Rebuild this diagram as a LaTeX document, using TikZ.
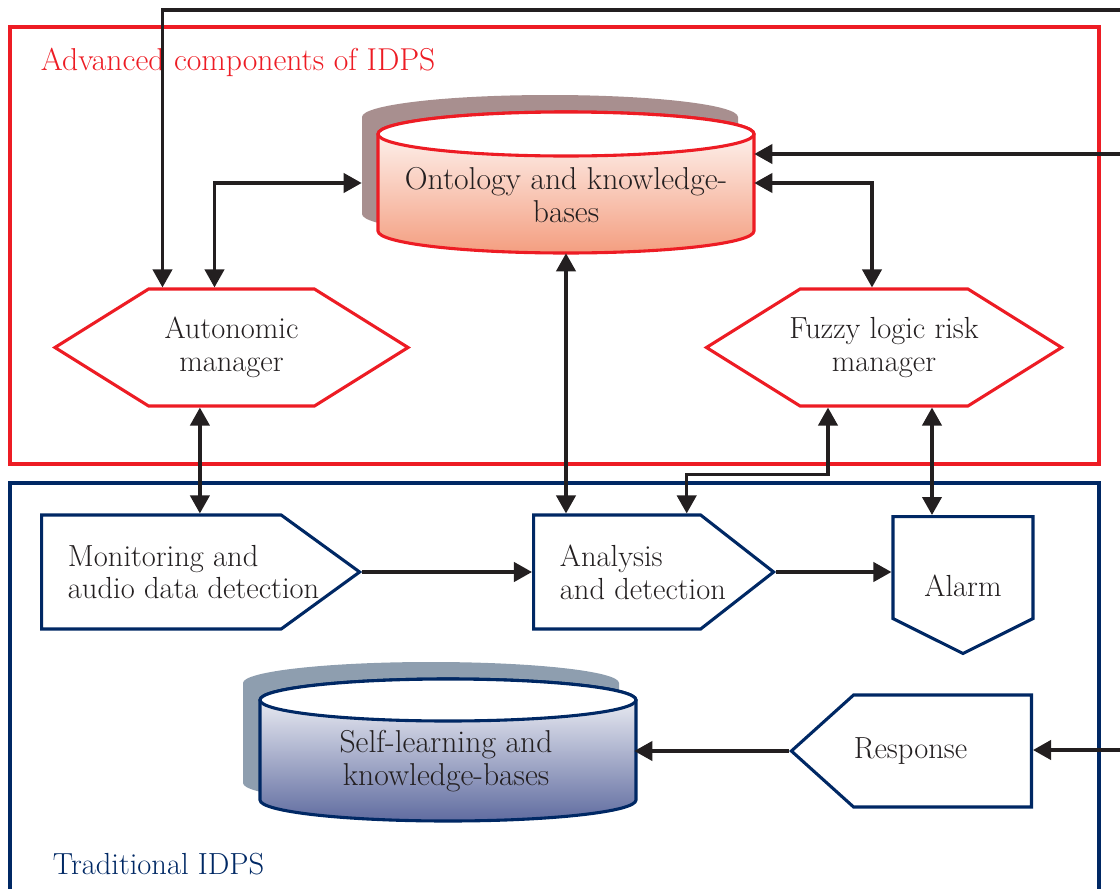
\documentclass[tikz,border=0pt]{standalone}
\usepackage{tikz}
\usetikzlibrary{shapes.symbols, arrows.meta, positioning, calc}

\definecolor{idpsred}{RGB}{237,28,36}
\definecolor{idpsblue}{RGB}{0,40,100}
\definecolor{txtgray}{RGB}{35,31,32}
\definecolor{ontoshadow}{RGB}{168,143,143}
\definecolor{ontobottom}{RGB}{244,158,128}
\definecolor{selfshadow}{RGB}{142,158,175}
\definecolor{selfbottom}{RGB}{96,108,160}

\begin{document}
\begin{tikzpicture}[
        x=0.025cm, y=-0.025cm,
        >={Triangle[length=0.45cm, width=0.48cm]},
        every node/.style={text=txtgray, font=\fontsize{21.7}{23.4}\selectfont},
        bigtext/.style={font=\fontsize{22.5}{23.4}\selectfont},
        hexa/.style={signal, signal to=east and west, signal pointer angle=64, draw=idpsred, line width=2.2pt, fill=white, inner sep=0pt, minimum width=8.825cm, minimum height=2.925cm, align=center},
        stage/.style={signal, draw=idpsblue, line width=2.2pt, fill=white, inner sep=0pt, minimum height=2.85cm, align=left},
        dbtext/.style={bigtext, minimum width=9.4cm, minimum height=2.9cm, align=center},
        frame/.style={line width=2.2pt},
        arrow/.style={->, line width=2.4pt, draw=txtgray},
        dblarrow/.style={<->, line width=2.4pt, draw=txtgray}
    ]

    \useasboundingbox (0,0) rectangle (1120,889);

    % group frames
    \draw[frame, idpsred] (10,27) rectangle (1099,464);
    \draw[frame, idpsblue] (10,483) rectangle (1099,930);
    \node[bigtext, anchor=west, text=idpsred] (advlbl) at (36,62) {Advanced components of IDPS};
    \node[anchor=west, text=idpsblue] (tradlbl) at (48,864) {Traditional IDPS};

    % ontology cylinder
    \fill[ontoshadow] (362,117) -- (362,214) arc (180:0:188 and 22) -- (738,117) arc (0:-180:188 and 22) -- cycle;
    \shade[top color=white, bottom color=ontobottom] (378,134) -- (378,231) arc (180:0:188 and 22) -- (754,134) arc (0:-180:188 and 22) -- cycle;
    \draw[frame, idpsred] (378,134) -- (378,231) arc (180:0:188 and 22) -- (754,134) arc (0:-180:188 and 22) -- cycle;
    \filldraw[frame, fill=white, draw=idpsred] (566,134) ellipse [x radius=188, y radius=22];
    \node[dbtext] (onto) at (566,195) {Ontology and knowledge-\\bases};

    % self-learning cylinder
    \fill[selfshadow] (243,683) -- (243,783) arc (180:0:188 and 21) -- (619,683) arc (0:-180:188 and 21) -- cycle;
    \shade[top color=white, bottom color=selfbottom] (260,700) -- (260,800) arc (180:0:188 and 21) -- (636,700) arc (0:-180:188 and 21) -- cycle;
    \draw[frame, idpsblue] (260,700) -- (260,800) arc (180:0:188 and 21) -- (636,700) arc (0:-180:188 and 21) -- cycle;
    \filldraw[frame, fill=white, draw=idpsblue] (448,700) ellipse [x radius=188, y radius=21];
    \node[dbtext] (self) at (446,761) {Self-learning and\\knowledge-bases};

    % managers
    \node[hexa] (auto) at (231.5,347.5) {Autonomic\\manager};
    \node[hexa, inner xsep=-0.27cm] (fuzzy) at (884,347.5) {Fuzzy logic risk\\manager};

    % traditional stages
    \node[stage, signal to=east, signal pointer angle=72, minimum width=7.95cm, anchor=west] (mon) at (40,572) {};
    \node[anchor=west, align=left] (montext) at ([xshift=0.575cm]mon.west) {Monitoring and\\audio data detection};
    \node[stage, signal to=east, signal pointer angle=76, minimum width=6cm, anchor=west] (ana) at (532,572) {};
    \node[anchor=west, align=left] (anatext) at ([xshift=0.575cm]ana.west) {Analysis\\and detection};
    \node[stage, signal to=south, signal pointer angle=127, minimum width=3.5cm, minimum height=2.55cm, anchor=north] (alarm) at (963,515) {};
    \node (alarmtext) at ([yshift=-0.46cm]alarm.center) {Alarm};
    \node[stage, signal to=west, signal pointer angle=84, minimum width=6cm, minimum height=2.8cm, anchor=east] (resp) at (1033,751) {};
    \node (resptext) at ([xshift=-0.8cm]resp.center) {Response};

    % feedback ends
    \coordinate (fbtop) at (1130,10);
    \coordinate (fbmid) at (1130,154);
    \coordinate (fbbot) at (1130,750);

    \draw[arrow] (fbtop) -| ([xshift=-1.725cm]auto.north);
    \draw[arrow] (fbmid) -- (fbmid -| onto.east);
    \draw[dblarrow] ([xshift=-0.425cm]auto.north) |- ([shift={(-0.4cm,0.3cm)}]onto.west);
    \draw[dblarrow] ([yshift=0.3cm]onto.east) -| ([xshift=-0.3cm]fuzzy.north);
    \draw[dblarrow] (onto.south) -- (onto.south |- ana.north);
    \draw[dblarrow] ([xshift=-0.79cm]auto.south) -- ([xshift=-0.79cm]auto.south |- mon.north);
    \draw[dblarrow] ([xshift=-1.4cm]fuzzy.south) -- ++(0,67) -| ([xshift=1.74cm]ana.north);
    \draw[dblarrow] ([xshift=-0.775cm]alarm.north) -- ([xshift=-0.775cm]alarm.north |- fuzzy.south);
    \draw[arrow] (mon.east) -- (ana.west);
    \draw[arrow] (ana.east) -- (ana.east -| alarm.west);
    \draw[arrow] (resp.west) -- (resp.west -| self.east);
    \draw[arrow] (fbbot) -- (fbbot -| resp.east);

\end{tikzpicture}
\end{document}
